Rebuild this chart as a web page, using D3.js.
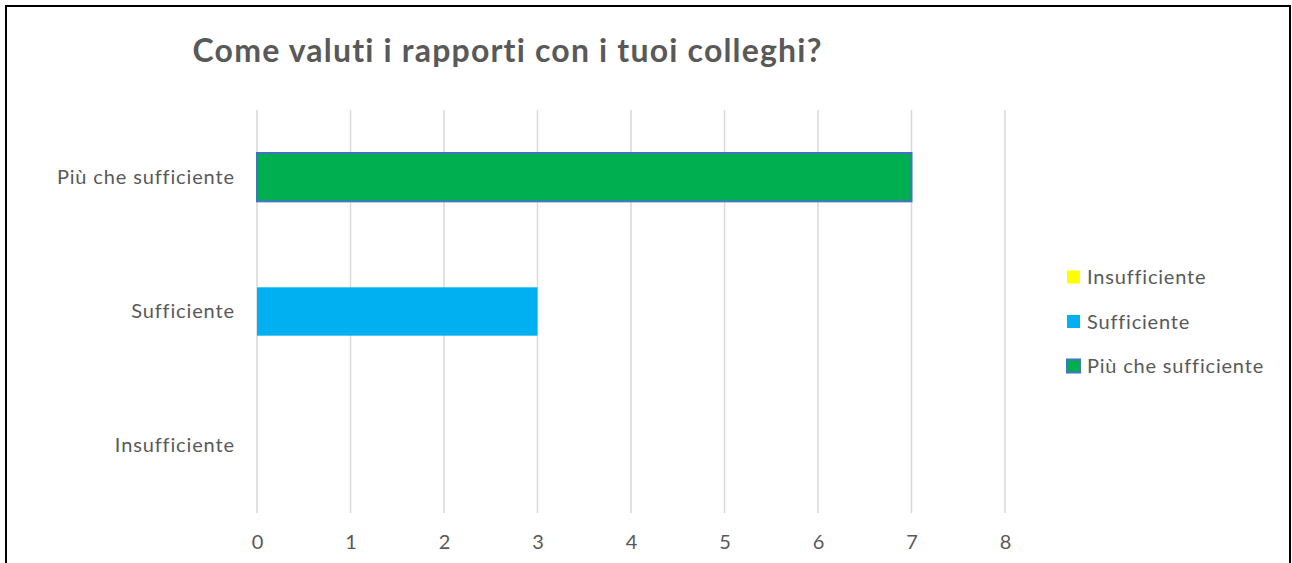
<!DOCTYPE html>
<html>
<head>
<meta charset="utf-8">
<script src="https://cdn.jsdelivr.net/npm/d3@7"></script>
<style>
  html, body { margin: 0; padding: 0; background: #fff; }
  svg { display: block; }
  text { font-family: Lato, "Open Sans", sans-serif; fill: #595959; font-variant-ligatures: none; font-feature-settings: "liga" 0, "clig" 0; }
</style>
</head>
<body>
<svg id="chart" width="1292" height="563"></svg>
<script>
const title = "Come valuti i rapporti con i tuoi colleghi?";
const categories = ["Più che sufficiente", "Sufficiente", "Insufficiente"];
const values = [7, 3, 0];
const colors = ["#00B050", "#00B0F0", "#FFFF00"];
const strokes = ["#4472C4", "none", "none"];
const xTicks = [0, 1, 2, 3, 4, 5, 6, 7, 8];
const legendItems = ["Insufficiente", "Sufficiente", "Più che sufficiente"];
const legendColors = ["#FFFF00", "#00B0F0", "#00B050"];
const legendStrokes = ["none", "none", "#4472C4"];

const FONT = 'Lato, "Open Sans", sans-serif';
const svg = d3.select("#chart");

// spread letters so that a reference text reaches its measured width
function spacingFor(sel, target) {
  const node = sel.node();
  const len = node.getComputedTextLength();
  const n = node.textContent.length;
  return Math.max(0, (target - len) / n);
}

// outer frame
svg.append("rect").attr("x", 6).attr("y", 6).attr("width", 1284).attr("height", 600)
  .attr("fill", "#fff").attr("stroke", "#000").attr("stroke-width", 2);

const x = d3.scaleLinear().domain([0, 8]).range([257, 1005]);
const y = d3.scaleBand().domain(categories).range([110, 513]).paddingInner(0.64).paddingOuter(0.32);

// gridlines
svg.append("g").selectAll("line").data(xTicks).join("line")
  .attr("x1", d => x(d)).attr("x2", d => x(d))
  .attr("y1", 110).attr("y2", 513)
  .attr("stroke", "#d9d9d9").attr("stroke-width", 1.5);

// bars
svg.append("g").selectAll("rect").data(categories).join("rect")
  .attr("x", x(0))
  .attr("y", d => y(d))
  .attr("width", (d, i) => x(values[i]) - x(0))
  .attr("height", y.bandwidth())
  .attr("fill", (d, i) => colors[i])
  .attr("stroke", (d, i) => strokes[i])
  .attr("stroke-width", 2);

// x axis labels
const xAxis = d3.axisBottom(x).tickValues(xTicks).tickSize(0).tickPadding(0).tickFormat(d3.format("d"));
const gx = svg.append("g").attr("transform", "translate(0,535)").call(xAxis);
gx.select(".domain").remove();
gx.selectAll("text").attr("font-size", 20).attr("fill", "#595959").style("font-family", FONT);

// y axis labels
const yAxis = d3.axisLeft(y).tickSize(0).tickPadding(0);
const gy = svg.append("g").attr("transform", "translate(234,0)").call(yAxis);
gy.select(".domain").remove();
gy.selectAll("text").attr("font-size", 20).attr("fill", "#595959").style("font-family", FONT);
const yRef = gy.selectAll("text").filter(d => d === "Più che sufficiente");
const ySp = spacingFor(yRef, 178);
gy.selectAll("text").attr("letter-spacing", ySp).attr("dx", ySp);

// title
const t = svg.append("text").attr("x", 507).attr("y", 62).attr("text-anchor", "middle")
  .attr("font-size", 32).attr("font-weight", "bold").text(title);
const tSp = spacingFor(t, 630);
t.attr("letter-spacing", tSp).attr("dx", tSp / 2);

// legend
const lg = svg.append("g").attr("transform", "translate(1067,0)");
const ly = d3.scalePoint().domain(legendItems).range([277, 366]);
lg.selectAll("rect").data(legendItems).join("rect")
  .attr("x", 0).attr("y", d => ly(d) - 6.5)
  .attr("width", 13).attr("height", 13)
  .attr("fill", (d, i) => legendColors[i])
  .attr("stroke", (d, i) => legendStrokes[i]).attr("stroke-width", 2);
const lt = lg.selectAll("text").data(legendItems).join("text")
  .attr("x", 20).attr("y", d => ly(d)).attr("dy", "0.35em")
  .attr("font-size", 20).text(d => d);
const lSp = spacingFor(lt.filter(d => d === "Più che sufficiente"), 177);
lt.attr("letter-spacing", lSp);
</script>
</body>
</html>
